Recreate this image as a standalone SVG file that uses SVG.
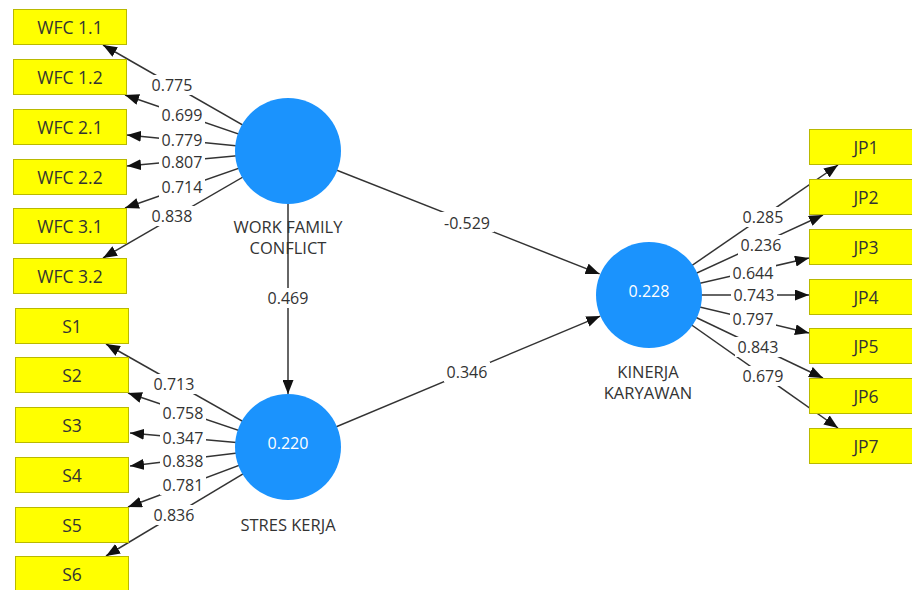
<svg xmlns="http://www.w3.org/2000/svg" width="912" height="590" viewBox="0 0 912 590">
  <defs>
    <marker id="arrow" markerUnits="userSpaceOnUse" markerWidth="14" markerHeight="11" refX="14" refY="5.5" orient="auto">
      <path d="M0,0 L14,5.5 L0,11 z" fill="#111"/>
    </marker>
    <style>
      .ind rect { fill: #FFFF00; stroke: #B9B900; stroke-width: 1; }
      .ind text { font-family: "Open Sans", "Noto Sans", sans-serif; font-size: 17.5px; fill: #333; text-anchor: middle; }
      .lv circle { fill: #1B93FD; }
      .lv text { font-family: "Open Sans", "Noto Sans", sans-serif; font-size: 16.5px; text-anchor: middle; }
      .lv .r2 { fill: #fff; font-size: 16px; }
      .lv .name { fill: #333; }
      .edges path { stroke: #333; stroke-width: 1.5; fill: none; marker-end: url(#arrow); }
      .wt rect { fill: #fff; }
      .wt text { font-family: "Open Sans", "Noto Sans", sans-serif; font-size: 16px; fill: #333; text-anchor: middle; }
    </style>
  </defs>
  <rect width="912" height="590" fill="#fff"/>

  <!-- connectors -->
  <g id="connectors" class="edges">
    <!-- WORK FAMILY CONFLICT outer loadings -->
    <path d="M288,151 L103,45"/>
    <path d="M288,151 L125,95"/>
    <path d="M288,151 L127,135"/>
    <path d="M288,151 L127,166"/>
    <path d="M288,151 L125,208"/>
    <path d="M288,151 L103,258"/>
    <!-- STRES KERJA outer loadings -->
    <path d="M288,447 L106,344"/>
    <path d="M288,447 L128,393"/>
    <path d="M288,447 L130,433"/>
    <path d="M288,447 L130,466"/>
    <path d="M288,447 L128,507"/>
    <path d="M288,447 L106,556"/>
    <!-- KINERJA KARYAWAN outer loadings -->
    <path d="M649,295 L838,165"/>
    <path d="M649,295 L823,215"/>
    <path d="M649,295 L809,258"/>
    <path d="M649,295 L809,295"/>
    <path d="M649,295 L809,333"/>
    <path d="M649,295 L823,378"/>
    <path d="M649,295 L838,428"/>
    <!-- structural paths -->
    <path d="M288,151 L288,394"/>
    <path d="M288,151 L599.6,273.9"/>
    <path d="M288,447 L600.3,316.1"/>
  </g>

  <!-- path weights and loadings -->
  <g id="weights" class="wt">
    <rect x="149" y="75" width="46" height="20"/><text x="172" y="90.5">0.775</text>
    <rect x="159" y="105" width="46" height="20"/><text x="182" y="120.5">0.699</text>
    <rect x="159" y="130" width="46" height="20"/><text x="182" y="145.5">0.779</text>
    <rect x="159" y="152" width="46" height="20"/><text x="182" y="167.5">0.807</text>
    <rect x="159" y="177" width="46" height="20"/><text x="182" y="192.5">0.714</text>
    <rect x="149" y="206" width="46" height="20"/><text x="172" y="221.5">0.838</text>

    <rect x="151" y="374" width="46" height="20"/><text x="174" y="389.5">0.713</text>
    <rect x="160" y="403" width="46" height="20"/><text x="183" y="418.5">0.758</text>
    <rect x="160" y="428" width="46" height="20"/><text x="183" y="443.5">0.347</text>
    <rect x="160" y="451" width="46" height="20"/><text x="183" y="466.5">0.838</text>
    <rect x="160" y="475" width="46" height="20"/><text x="183" y="490.5">0.781</text>
    <rect x="151" y="505" width="46" height="20"/><text x="174" y="520.5">0.836</text>

    <rect x="740" y="207" width="46" height="20"/><text x="763" y="222.5">0.285</text>
    <rect x="738" y="235" width="46" height="20"/><text x="761" y="250.5">0.236</text>
    <rect x="730" y="263" width="46" height="20"/><text x="753" y="278.5">0.644</text>
    <rect x="731" y="285" width="46" height="20"/><text x="754" y="300.5">0.743</text>
    <rect x="730" y="309" width="46" height="20"/><text x="753" y="324.5">0.797</text>
    <rect x="735" y="337" width="46" height="20"/><text x="758" y="352.5">0.843</text>
    <rect x="740" y="366" width="46" height="20"/><text x="763" y="381.5">0.679</text>

    <rect x="265" y="288" width="46" height="20"/><text x="288" y="303.5">0.469</text>
    <rect x="440" y="212" width="54" height="20"/><text x="467" y="228.5">-0.529</text>
    <rect x="444" y="362" width="46" height="20"/><text x="467" y="377.5">0.346</text>
  </g>

  <!-- latent variables -->
  <g id="work-family-conflict" class="lv">
    <circle cx="288" cy="151" r="53"/>
    <text class="name" x="288" y="232.5">WORK FAMILY</text>
    <text class="name" x="288" y="254">CONFLICT</text>
  </g>
  <g id="stres-kerja" class="lv">
    <circle cx="288" cy="447" r="53"/>
    <text class="r2" x="288" y="448.5">0.220</text>
    <text class="name" x="288" y="531">STRES KERJA</text>
  </g>
  <g id="kinerja-karyawan" class="lv">
    <circle cx="649" cy="295" r="53"/>
    <text class="r2" x="649" y="296.5">0.228</text>
    <text class="name" x="648" y="378">KINERJA</text>
    <text class="name" x="648" y="399">KARYAWAN</text>
  </g>

  <!-- indicators: WORK FAMILY CONFLICT -->
  <g id="wfc11" class="ind"><rect x="13.5" y="9.5" width="113" height="35"/><text x="70" y="33.5">WFC 1.1</text></g>
  <g id="wfc12" class="ind"><rect x="13.5" y="59.5" width="113" height="35"/><text x="70" y="83.5">WFC 1.2</text></g>
  <g id="wfc21" class="ind"><rect x="13.5" y="109.5" width="113" height="35"/><text x="70" y="133.5">WFC 2.1</text></g>
  <g id="wfc22" class="ind"><rect x="13.5" y="159.5" width="113" height="35"/><text x="70" y="183.5">WFC 2.2</text></g>
  <g id="wfc31" class="ind"><rect x="13.5" y="208.5" width="113" height="35"/><text x="70" y="232.5">WFC 3.1</text></g>
  <g id="wfc32" class="ind"><rect x="13.5" y="258.5" width="113" height="35"/><text x="70" y="282.5">WFC 3.2</text></g>

  <!-- indicators: STRES KERJA -->
  <g id="s1" class="ind"><rect x="15.5" y="308.5" width="113" height="35"/><text x="72" y="332.5">S1</text></g>
  <g id="s2" class="ind"><rect x="15.5" y="357.5" width="113" height="35"/><text x="72" y="381.5">S2</text></g>
  <g id="s3" class="ind"><rect x="15.5" y="407.5" width="113" height="35"/><text x="72" y="431.5">S3</text></g>
  <g id="s4" class="ind"><rect x="15.5" y="457.5" width="113" height="35"/><text x="72" y="481.5">S4</text></g>
  <g id="s5" class="ind"><rect x="15.5" y="507.5" width="113" height="35"/><text x="72" y="531.5">S5</text></g>
  <g id="s6" class="ind"><rect x="15.5" y="556.5" width="113" height="35"/><text x="72" y="580.5">S6</text></g>

  <!-- indicators: KINERJA KARYAWAN -->
  <g id="jp1" class="ind"><rect x="809.5" y="129.5" width="113" height="35"/><text x="866" y="153.5">JP1</text></g>
  <g id="jp2" class="ind"><rect x="809.5" y="179.5" width="113" height="35"/><text x="866" y="203.5">JP2</text></g>
  <g id="jp3" class="ind"><rect x="809.5" y="229.5" width="113" height="35"/><text x="866" y="253.5">JP3</text></g>
  <g id="jp4" class="ind"><rect x="809.5" y="279.5" width="113" height="35"/><text x="866" y="303.5">JP4</text></g>
  <g id="jp5" class="ind"><rect x="809.5" y="328.5" width="113" height="35"/><text x="866" y="352.5">JP5</text></g>
  <g id="jp6" class="ind"><rect x="809.5" y="378.5" width="113" height="35"/><text x="866" y="402.5">JP6</text></g>
  <g id="jp7" class="ind"><rect x="809.5" y="428.5" width="113" height="35"/><text x="866" y="452.5">JP7</text></g>
</svg>
